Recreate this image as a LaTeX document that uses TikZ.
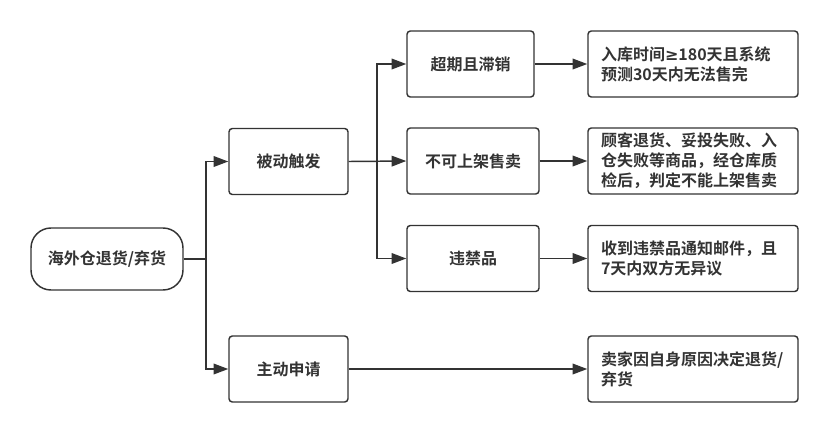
\documentclass[tikz,border=0pt]{standalone}
\usepackage{fontspec}
\setmainfont{Noto Sans CJK SC}[BoldFont={Noto Sans CJK SC Bold}]
\newfontfamily\mathsign{DejaVu Sans}
\usetikzlibrary{arrows.meta}
\definecolor{ink}{HTML}{333333}
\tikzset{
  box/.style={draw=ink, line width=1.1pt, rounded corners=2.5pt, minimum height=49.5pt,
    text=ink, font=\bfseries\fontsize{12}{15}\selectfont, inner sep=0pt},
  rootbox/.style={box, rounded corners=15pt, minimum width=114pt, minimum height=46.5pt},
  midbox/.style={box, minimum width=89.25pt},
  subbox/.style={box, minimum width=99pt},
  notebox/.style={box, minimum width=157.5pt, text width=138pt, align=left},
  link/.style={draw=ink, line width=1.1pt, -{Triangle[length=11pt,width=8pt]}},
  plain/.style={draw=ink, line width=1.1pt}
}
\begin{document}
\begin{tikzpicture}[x=0.75pt, y=-0.75pt]
\useasboundingbox (0,0) rectangle (829,433);
\node [rootbox] (root) at (107,259) {海外仓退货/弃货};
\node [midbox] (passive) at (288.5,161.5) {被动触发};
\node [midbox] (active) at (288.5,369) {主动申请};
\node [subbox, minimum width=95.25pt] (overdue) at (470.5,64) {超期且滞销};
\node [subbox] (unsale) at (473,161) {不可上架售卖};
\node [subbox] (banned) at (473,258.5) {违禁品};
\node [notebox] (noteA) at (693,64) {入库时间{\mathsign ≥}180天且系统\\预测30天内无法售完};
\node [notebox] (noteB) at (693,161) {顾客退货、妥投失败、入\\仓失败等商品，经仓库质\\检后，判定不能上架售卖};
\node [notebox] (noteC) at (693,258.5) {收到违禁品通知邮件，且\\7天内双方无异议};
\node [notebox] (noteD) at (693,369) {卖家因自身原因决定退货/\\弃货};
\coordinate (j1) at (206,259);
\coordinate (j2) at (377,161);
\draw [plain] (root.east) -- (j1);
\draw [link] (j1) |- (passive.west);
\draw [link] (j1) |- (active.west);
\draw [link] (passive.east) -- (unsale.west);
\draw [link] (j2) |- (overdue.west);
\draw [link] (j2) |- (banned.west);
\draw [link] (overdue.east) -- (overdue.east -| noteA.west);
\draw [link] (unsale.east) -- (noteB.west);
\draw [link] (banned.east) -- (noteC.west);
\draw [link] (active.east) -- (noteD.west);
\end{tikzpicture}
\end{document}
